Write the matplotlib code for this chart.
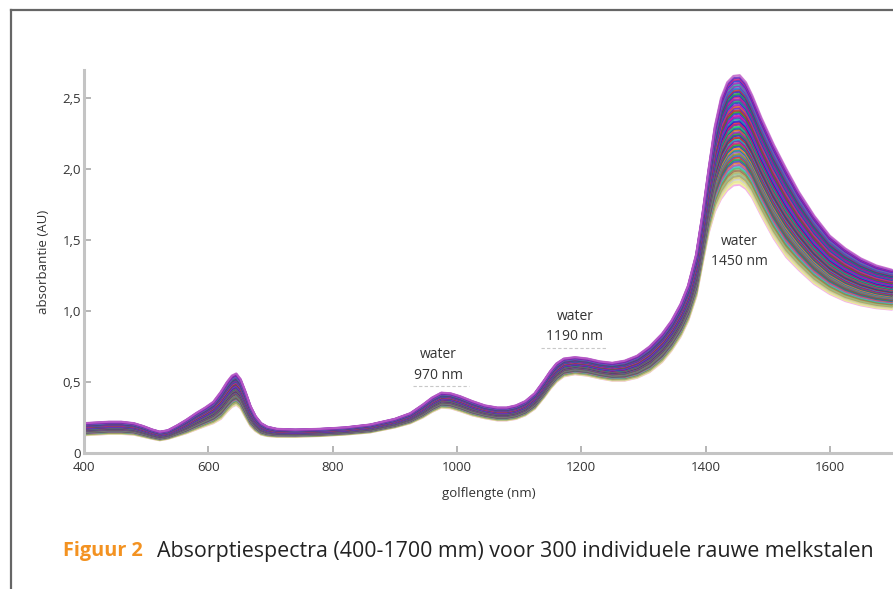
import matplotlib
matplotlib.use("Agg")
import matplotlib.pyplot as plt
from matplotlib.lines import Line2D
import numpy as np

# ---- data ----
wavelength = [400, 420, 440, 460, 480, 495, 510, 522, 535, 550, 565, 580, 595, 608, 620, 630,
              638, 645, 652, 660, 668, 676, 685, 695, 710, 740, 780, 820, 860, 900, 925, 945,
              960, 975, 990, 1005, 1025, 1045, 1065, 1080, 1095, 1110, 1125, 1140, 1150, 1160,
              1172, 1190, 1210, 1230, 1250, 1270, 1290, 1310, 1330, 1345, 1360, 1372, 1385,
              1395, 1405, 1415, 1425, 1435, 1445, 1455, 1465, 1475, 1490, 1510, 1530, 1550,
              1575, 1600, 1625, 1650, 1675, 1700]
upper_spectrum = [0.21, 0.215, 0.22, 0.22, 0.21, 0.19, 0.165, 0.15, 0.16, 0.195, 0.235, 0.28,
                  0.32, 0.36, 0.43, 0.50, 0.545, 0.56, 0.52, 0.43, 0.33, 0.26, 0.21, 0.185,
                  0.17, 0.165, 0.17, 0.18, 0.20, 0.24, 0.28, 0.34, 0.39, 0.425, 0.42, 0.40,
                  0.365, 0.335, 0.32, 0.32, 0.335, 0.365, 0.42, 0.51, 0.575, 0.63, 0.665,
                  0.675, 0.665, 0.645, 0.635, 0.65, 0.685, 0.75, 0.84, 0.93, 1.05, 1.18, 1.40,
                  1.68, 2.00, 2.30, 2.50, 2.61, 2.655, 2.66, 2.61, 2.52, 2.36, 2.17, 2.00, 1.84,
                  1.67, 1.53, 1.44, 1.37, 1.32, 1.29]
lower_spectrum = [0.125, 0.13, 0.135, 0.135, 0.13, 0.115, 0.10, 0.09, 0.10, 0.12, 0.14, 0.165,
                  0.19, 0.21, 0.24, 0.29, 0.325, 0.34, 0.315, 0.25, 0.19, 0.155, 0.13, 0.12,
                  0.115, 0.115, 0.12, 0.13, 0.145, 0.18, 0.21, 0.25, 0.29, 0.32, 0.315, 0.295,
                  0.265, 0.245, 0.23, 0.23, 0.24, 0.265, 0.31, 0.39, 0.45, 0.50, 0.54, 0.555,
                  0.545, 0.525, 0.51, 0.51, 0.53, 0.57, 0.64, 0.72, 0.82, 0.93, 1.10, 1.33,
                  1.55, 1.70, 1.79, 1.85, 1.885, 1.89, 1.86, 1.80, 1.67, 1.51, 1.38, 1.29,
                  1.19, 1.12, 1.07, 1.04, 1.02, 1.01]
# relative position of each drawn sample inside the band (0 = lowest, 1 = highest)
sample_position = [0.00, 0.015, 0.03, 0.05, 0.065, 0.08, 0.10, 0.115, 0.13, 0.15, 0.165, 0.18,
                   0.20, 0.215, 0.23, 0.25, 0.265, 0.28, 0.30, 0.315, 0.33, 0.35, 0.365, 0.38,
                   0.40, 0.415, 0.43, 0.45, 0.465, 0.48, 0.50, 0.515, 0.53, 0.55, 0.565, 0.58,
                   0.60, 0.615, 0.63, 0.65, 0.665, 0.68, 0.70, 0.715, 0.73, 0.75, 0.765, 0.78,
                   0.80, 0.815, 0.83, 0.85, 0.865, 0.88, 0.90, 0.915, 0.93, 0.95, 0.965, 0.98,
                   1.00]
sample_colors = ['#f2a0ea', '#f0f0a0', '#e6e690', '#c8c8c8', '#d8d070', '#a0a070', '#90c090',
                 '#b8b060', '#a07050', '#50b060', '#40c8c8', '#b050b0', '#e07030', '#4040d0',
                 '#20a050', '#d02828', '#2a70d0', '#909020', '#9050c0', '#109090', '#f08020',
                 '#1a30c8', '#28b028', '#d01870', '#6020a8', '#18b8b8', '#c02020', '#2020b8',
                 '#30a030', '#9020b8', '#d06010', '#0858b0', '#20c060', '#8010a0', '#e02050',
                 '#1818d0', '#10a0a0', '#7020c8', '#d01098', '#2828e0', '#28a028', '#c02828',
                 '#5818c8', '#e06818', '#a018c8', '#1838c0', '#18a078', '#8818b0', '#c81878',
                 '#2a2ad0', '#20a040', '#3018c0', '#c83030', '#2070d0', '#8020b0', '#30b0a0',
                 '#a020b8', '#2030d0', '#d02080', '#6028c0', '#c060c8']

y_ticks = [0, 0.5, 1.0, 1.5, 2.0, 2.5]
y_tick_labels = ['0', '0,5', '1,0', '1,5', '2,0', '2,5']
x_ticks = [400, 600, 800, 1000, 1200, 1400, 1600]
annotations = [("water\n970 nm", 970, 0.62), ("water\n1190 nm", 1190, 0.89),
               ("water\n1450 nm", 1455, 1.42)]

FONT = ['Open Sans', 'DejaVu Sans']
plt.rcParams['font.family'] = FONT

W, H = 893, 589
fig = plt.figure(figsize=(W / 100, H / 100), dpi=100)

def px_to_fig(x, y):
    return x / W, 1 - y / H

ax_left, ax_right, ax_top, ax_bottom = 84, 893, 70, 453
ax = fig.add_axes([ax_left / W, 1 - ax_bottom / H, (ax_right - ax_left) / W, (ax_bottom - ax_top) / H])

wl = np.array(wavelength)
up = np.array(upper_spectrum)
lo = np.array(lower_spectrum)
for pos, col in zip(sample_position, sample_colors):
    ax.plot(wl, lo + pos * (up - lo), color=col, lw=1.6, alpha=0.85,
            solid_joinstyle='round', solid_capstyle='round')

ax.set_xlim(400, 400 + (ax_right - ax_left) / 0.6215)
ax.set_ylim(0, (ax_bottom - ax_top) / 142.0)

for s in ['top', 'right']:
    ax.spines[s].set_visible(False)
for s in ['left', 'bottom']:
    ax.spines[s].set_color('#c4c4c4')
    ax.spines[s].set_linewidth(2.2)

ax.set_yticks(y_ticks)
ax.set_yticklabels(y_tick_labels)
ax.set_xticks(x_ticks)
ax.tick_params(direction='in', length=5, width=1.3, color='#b0b0b0',
               labelsize=9.5, labelcolor='#333333', pad=2)
ax.tick_params(axis='x', pad=6)

ax.set_xlabel('golflengte (nm)', fontsize=9.5, color='#333333', labelpad=9)
ax.set_ylabel('absorbantie (AU)', fontsize=9.5, color='#333333', labelpad=9)

for text, xv, yv in annotations:
    ax.text(xv, yv, text, ha='center', va='center', fontsize=10, color='#333333',
            linespacing=1.5)

# faint dashed underlines under the first two labels
ax.plot([930, 1020], [0.47, 0.47], color='#c8c8c8', lw=0.8, ls=(0, (3, 2)))
ax.plot([1135, 1240], [0.74, 0.74], color='#c8c8c8', lw=0.8, ls=(0, (3, 2)))

# frame lines
x0, y0 = px_to_fig(11, 10)
x1, _ = px_to_fig(893, 10)
_, y1 = px_to_fig(11, 589)
fig.add_artist(Line2D([x0, x1], [y0, y0], color='#666666', lw=1.6, transform=fig.transFigure))
fig.add_artist(Line2D([x0, x0], [y0, y1], color='#666666', lw=1.6, transform=fig.transFigure))

# caption
cx, cy = px_to_fig(63, 551)
t1 = fig.text(cx, cy, 'Figuur 2', fontsize=14.3, color='#f39221', fontweight='bold',
              ha='left', va='center')
fig.canvas.draw()
bb = t1.get_window_extent()
fig.text(157 / W, cy, 'Absorptiespectra (400-1700 mm) voor 300 individuele rauwe melkstalen',
         fontsize=15.4, color='#222222', ha='left', va='center')

fig.savefig('out.png', dpi=100)
